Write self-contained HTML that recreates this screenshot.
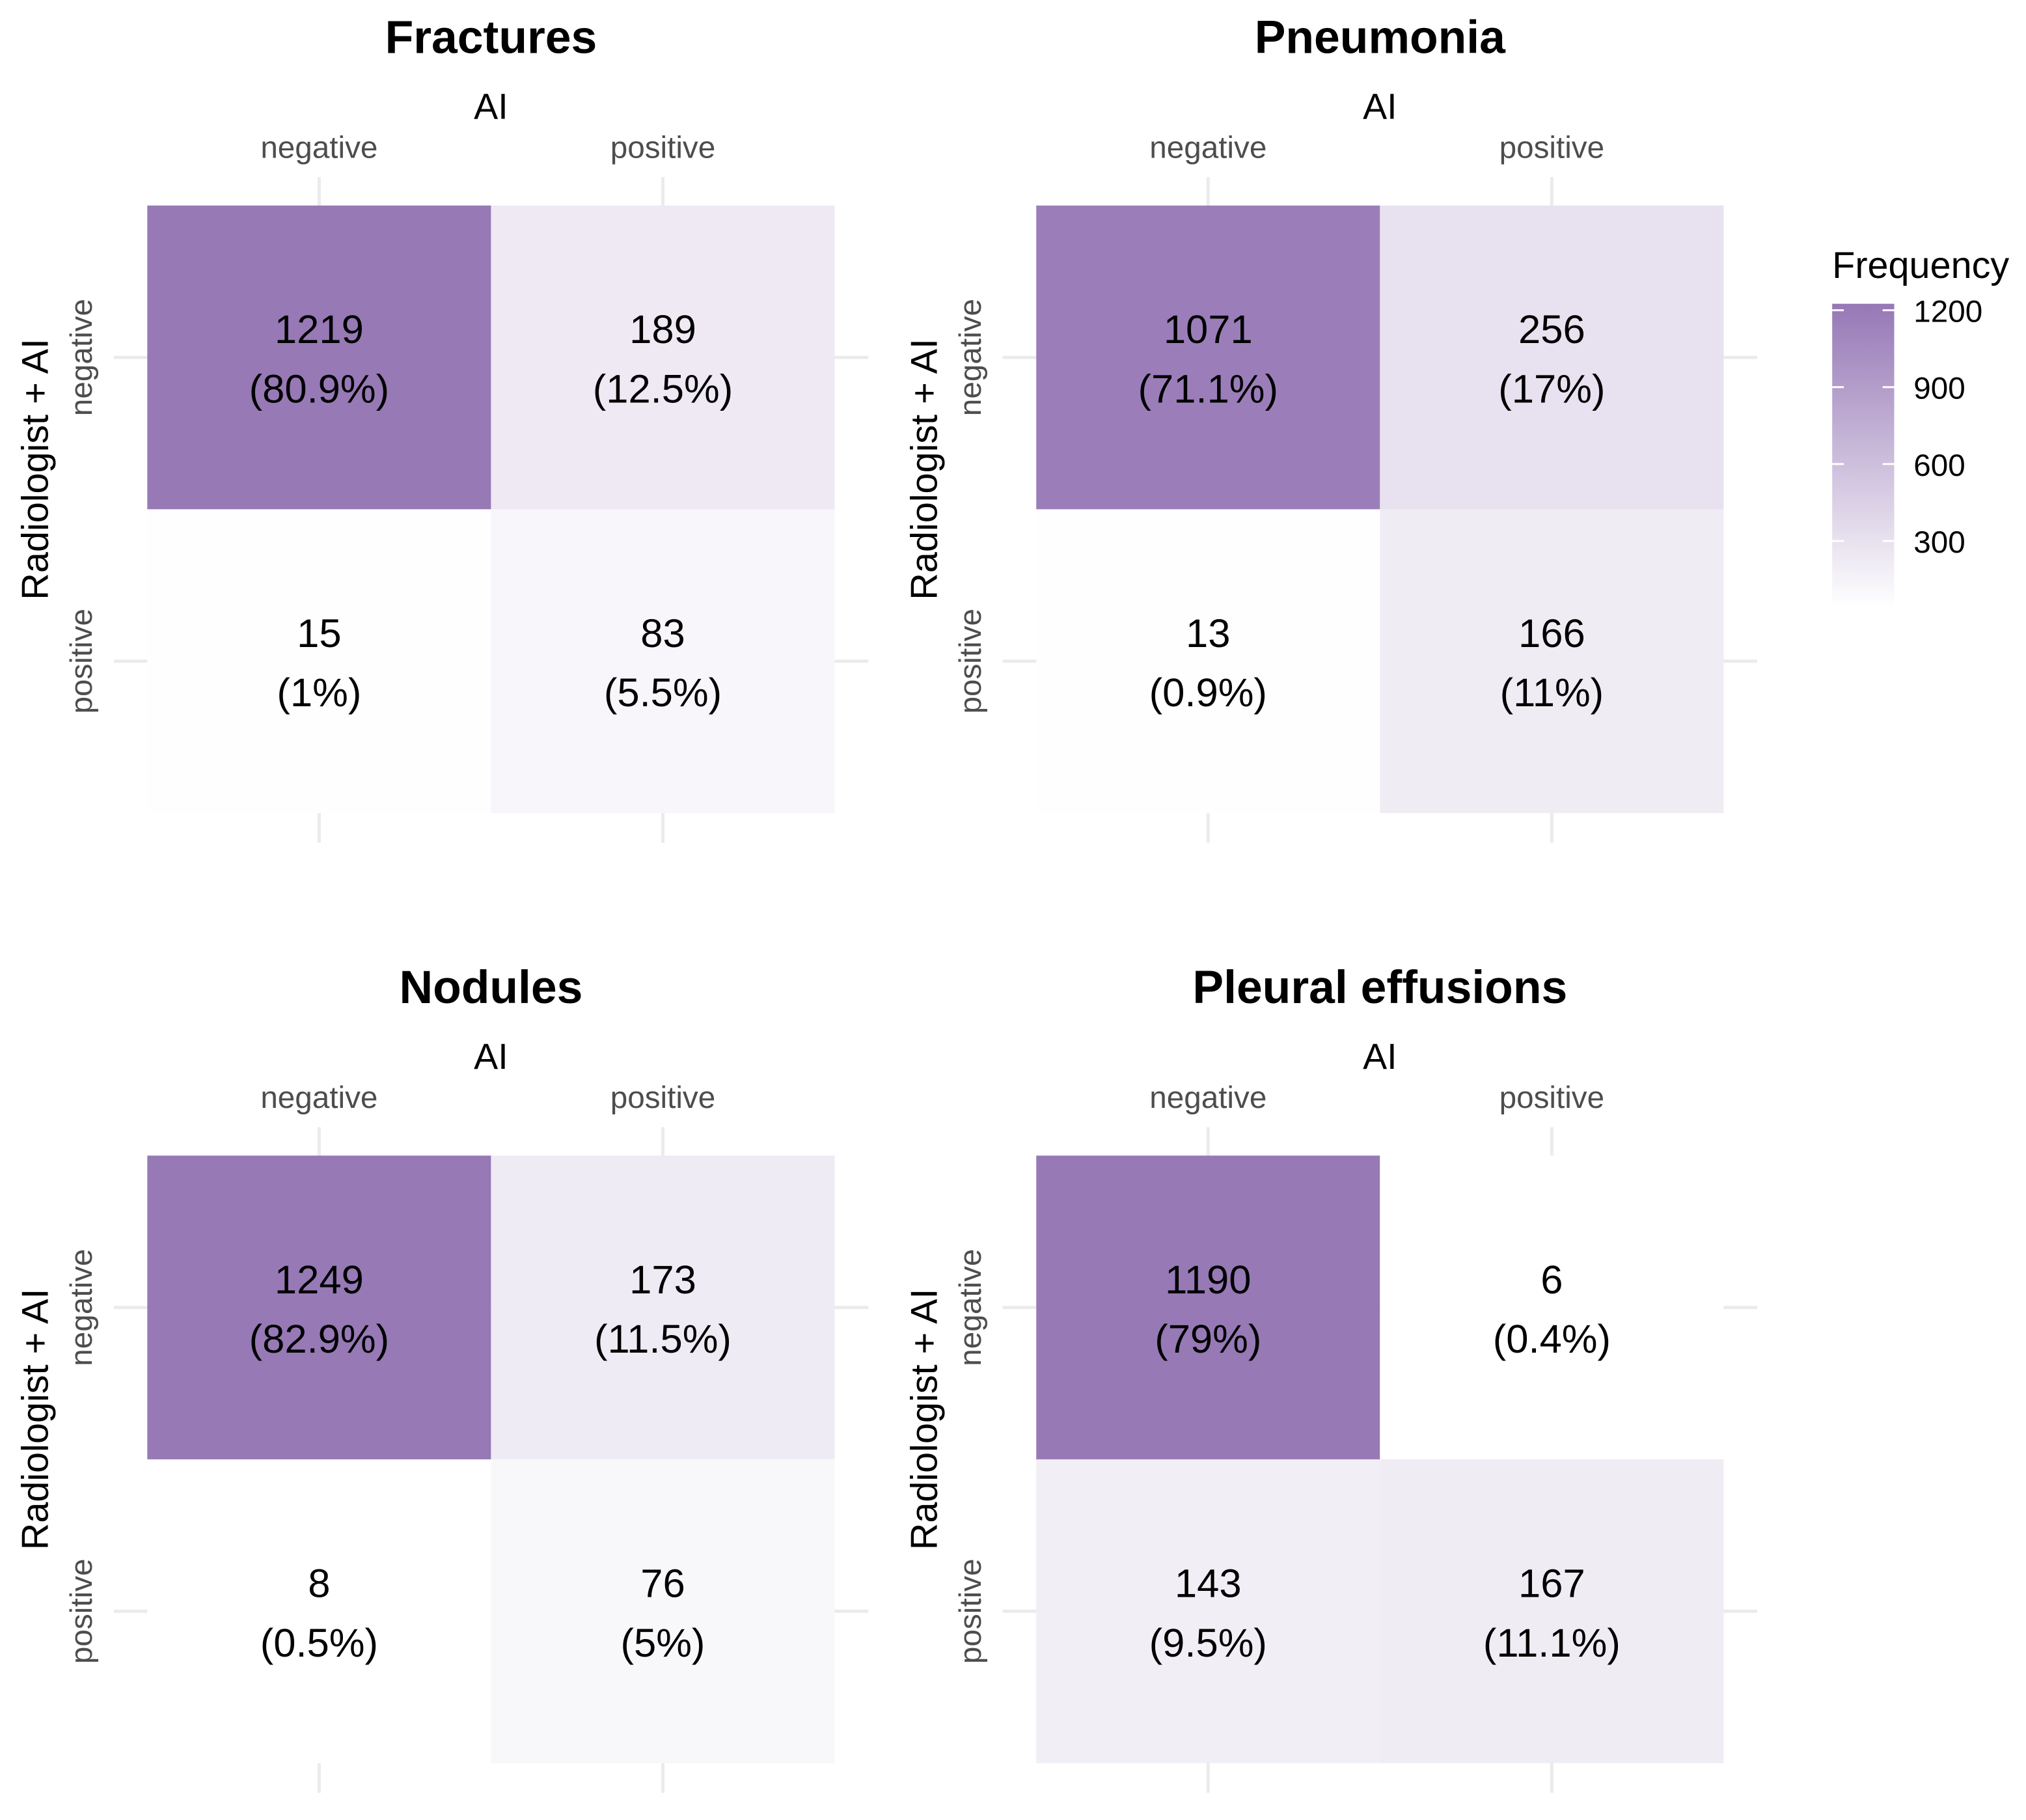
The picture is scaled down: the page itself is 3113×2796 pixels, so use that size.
<!DOCTYPE html>
<html><head><meta charset="utf-8"><style>
html,body{margin:0;padding:0;background:#fff}
svg{display:block}
text{font-family:"Liberation Sans",Arial,sans-serif}
</style></head><body>
<svg id="chart" width="3113" height="2796" viewBox="0 0 1568 1408" preserveAspectRatio="none" xmlns="http://www.w3.org/2000/svg">
<defs><linearGradient id="lg" x1="0" y1="1" x2="0" y2="0"><stop offset="0" stop-color="#ffffff"/><stop offset="1" stop-color="#9678b6"/></linearGradient></defs>
<g id="panels"></g>
<g>
<text x="1418" y="215" font-size="29" fill="#000">Frequency</text>
<rect x="1418" y="235" width="48" height="235" fill="url(#lg)"/>
<g id="legendticks"></g>
</g>
</svg>
<script>
const panelTitles = ["Fractures","Pneumonia","Nodules","Pleural effusions"];
const cellCounts = [[1219,189,15,83],[1071,256,13,166],[1249,173,8,76],[1190,6,143,167]];
const cellPcts = [["80.9%","12.5%","1%","5.5%"],["71.1%","17%","0.9%","11%"],["82.9%","11.5%","0.5%","5%"],["79%","0.4%","9.5%","11.1%"]];
const categories = ["negative","positive"];
const legendTicks = [300,600,900,1200];
const vmin = 6, vmax = 1249;

const NS="http://www.w3.org/2000/svg";
function mk(tag,attrs,parent){const e=document.createElementNS(NS,tag);for(const k in attrs)e.setAttribute(k,attrs[k]);parent.appendChild(e);return e;}
function color(v){let t=Math.max(0,Math.min(1,(v-vmin)/(vmax-vmin)));
 t=Math.min(1,t*1.12);
 const c=[255+(0x97-255)*t,255+(0x79-255)*t,255+(0xb6-255)*t].map(Math.round);return `rgb(${c})`;}
const panelsG=document.getElementById('panels');
const origins=[[0,0],[688,0],[0,735],[688,735]];
const cw=266, ch=235;
panelTitles.forEach((title,p)=>{
 const [ox,oy]=origins[p];
 const g=mk('g',{},panelsG);
 
 
 const x0=114+ox, y0=159+oy;
 const xs=i=>x0+cw*i+cw/2, ys=j=>y0+ch*j+ch/2;
 for(let i=0;i<2;i++){
  const gl=mk('line',{x1:xs(i),x2:xs(i),y1:137+oy,y2:652+oy,stroke:'#ebebeb','stroke-width':2.5},g);
  
  
  const hl=mk('line',{x1:88+ox,x2:672+ox,y1:ys(i),y2:ys(i),stroke:'#ebebeb','stroke-width':2.5},g);
  
  
 }
 const t=mk('text',{x:380+ox,y:41+oy,'font-size':36,'font-weight':'bold','text-anchor':'middle',fill:'#000'},g);
 t.textContent=title;
 
 
 const ax=mk('text',{x:380+ox,y:92+oy,'font-size':28,'text-anchor':'middle',fill:'#000'},g);
 ax.textContent='AI';
 
 
 const ay=mk('text',{x:0,y:0,'font-size':29,'text-anchor':'middle',fill:'#000',transform:`translate(${37+ox},${363+oy}) rotate(-90)`},g);
 ay.textContent='Radiologist + AI';
 
 
 categories.forEach((c,i)=>{
  const xl=mk('text',{x:xs(i),y:122+oy,'font-size':24,'text-anchor':'middle',fill:'#4d4d4d'},g);
  xl.textContent=c;
  
  
  const yl=mk('text',{x:0,y:0,'font-size':24,'text-anchor':'middle',fill:'#4d4d4d',transform:`translate(${71+ox},${ys(i)}) rotate(-90)`},g);
  yl.textContent=c;
  
  
 });
 cellCounts[p].forEach((v,k)=>{
  const i=k%2, j=Math.floor(k/2);
  const r=mk('rect',{x:x0+cw*i,y:y0+ch*j,width:cw,height:ch,fill:color(v)},g);
  
  
  const t1=mk('text',{x:xs(i),y:ys(j)-11,'font-size':31,'text-anchor':'middle',fill:'#000'},g);
  t1.textContent=v;
  
  
  const t2=mk('text',{x:xs(i),y:ys(j)+35,'font-size':31,'text-anchor':'middle',fill:'#000'},g);
  t2.textContent='('+cellPcts[p][k]+')';
  
  
 });
});
const lt=document.getElementById('legendticks');
const ly=v=>478-(v/300)*59.5;
legendTicks.forEach(v=>{
 const a=mk('line',{x1:1418,x2:1427,y1:ly(v),y2:ly(v),stroke:'#fff','stroke-width':1.5},lt);
 
 
 const b=mk('line',{x1:1457,x2:1466,y1:ly(v),y2:ly(v),stroke:'#fff','stroke-width':1.5},lt);
 
 
 const tx=mk('text',{x:1481,y:ly(v)+9,'font-size':24,fill:'#000'},lt);
 tx.textContent=v;
 
 
});
</script>
</body></html>
